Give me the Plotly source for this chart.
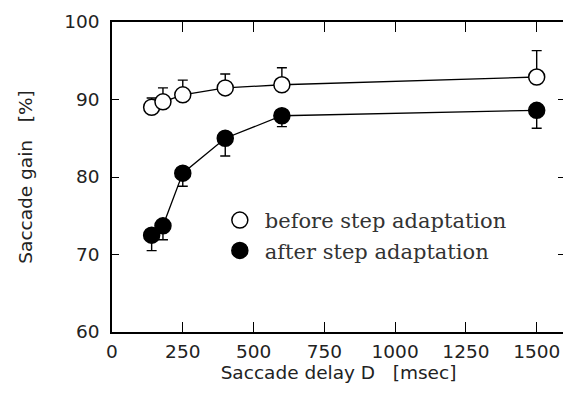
import plotly.graph_objects as go

# Saccade delay D [msec]
delay = [140, 180, 250, 400, 600, 1500]
# Saccade gain [%]
gain_before = [89.0, 89.7, 90.6, 91.5, 91.9, 92.9]
err_before = [1.2, 1.8, 1.9, 1.8, 2.2, 3.4]
gain_after = [72.5, 73.7, 80.5, 85.0, 87.9, 88.6]
err_after = [2.0, 1.8, 1.7, 2.3, 1.4, 2.3]

FONT = "DejaVu Sans"
LEG_FONT = "DejaVu Serif"

fig = go.Figure()

# connecting lines (not in legend)
for g in (gain_before, gain_after):
    fig.add_trace(go.Scatter(x=delay, y=g, mode="lines", line=dict(color="black", width=1.3),
                             showlegend=False, hoverinfo="skip"))

# markers with one-sided error bars: open up, filled down
fig.add_trace(go.Scatter(
    x=delay, y=gain_before, mode="markers", name="before step adaptation",
    marker=dict(symbol="circle", size=16, color="white", line=dict(color="black", width=1.5)),
    error_y=dict(type="data", symmetric=False, array=err_before, arrayminus=[0] * len(delay),
                 color="black", thickness=1.4, width=5),
))
fig.add_trace(go.Scatter(
    x=delay, y=gain_after, mode="markers", name="after step adaptation",
    marker=dict(symbol="circle", size=16, color="black", line=dict(color="black", width=1.5)),
    error_y=dict(type="data", symmetric=False, array=[0] * len(delay), arrayminus=err_after,
                 color="black", thickness=1.4, width=5),
))

axis_common = dict(showline=True, linecolor="black", linewidth=1.5, mirror="ticks",
                   ticks="inside", tickcolor="black", showgrid=False, zeroline=False,
                   automargin=False, tickfont=dict(family=FONT, size=18.5, color="#222"))

fig.update_xaxes(range=[0, 1600], tickvals=[0, 250, 500, 750, 1000, 1250, 1500], ticklen=10,
                 ticklabelstandoff=2,
                 title=dict(text="Saccade delay D&nbsp;&nbsp;&nbsp;[msec]",
                            font=dict(family=FONT, size=18.5, color="#222"), standoff=5),
                 **axis_common)
fig.update_yaxes(range=[60, 100], tickvals=[60, 70, 80, 90, 100], ticklen=7,
                 ticklabelstandoff=7,
                 title=dict(text="Saccade gain&nbsp;&nbsp;&nbsp;[%]",
                            font=dict(family=FONT, size=18.5, color="#222"), standoff=27),
                 **axis_common)

# the page body adds an 8px offset, so margins are shifted to compensate
fig.update_layout(
    width=571, height=414,
    margin=dict(l=104, r=14, t=14, b=90),
    plot_bgcolor="white", paper_bgcolor="white",
    legend=dict(x=0.227, y=0.426, xanchor="left", yanchor="top", bgcolor="rgba(0,0,0,0)",
                itemwidth=40,
                font=dict(family=LEG_FONT, size=21, color="#333"), tracegroupgap=0),
)

fig.write_html("out.html")
